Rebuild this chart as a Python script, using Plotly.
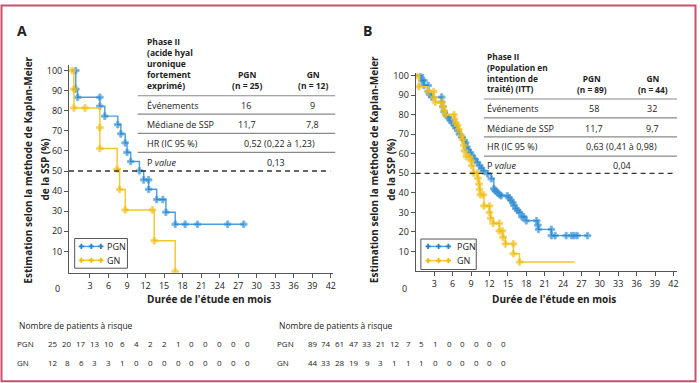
import plotly.graph_objects as go

W, H = 700, 383
FONT = "Open Sans"
TXT = "#222222"
BLUE_LINE = "#4a9ddc"
BLUE_MK = "#2483cc"
YEL_LINE = "#f3c62a"
YEL_MK = "#f0b90b"

# ---------------- Panel A data (Kaplan-Meier, PFS %) ----------------
pgn_a_t = [0.7, 0.7, 1.0, 4.6, 4.6, 5.4, 7.5, 8.0, 8.7, 9.0, 9.6, 11.0, 11.7, 12.5,
           12.5, 13.8, 14.8, 15.3, 16.8, 18.4, 20.4, 25.3, 27.9]
pgn_a_s = [100, 90.8, 86.7, 86.7, 82.3, 77.3, 73.1, 68.5, 64.0, 59.3, 54.7, 50.1, 45.6, 45.6,
           40.9, 35.8, 35.8, 29.5, 23.5, 23.5, 23.5, 23.5, 23.5]
gn_a_t = [0.1, 0.4, 0.4, 2.2, 4.6, 4.6, 7.4, 7.8, 8.7, 13.1, 13.4, 16.8]
gn_a_s = [100, 90.8, 81.4, 81.4, 71.6, 61.2, 50.9, 40.8, 30.6, 30.6, 15.3, 0]

# ---------------- Panel B data ----------------
pgn_b_t = [0.75, 1.0, 1.3, 1.3, 2.0, 2.0, 2.2, 2.6, 4.2, 4.2, 4.4, 4.6, 5.0, 5.3, 5.6, 5.9,
           6.3, 6.5, 6.9, 7.1, 7.5, 7.9, 8.1, 8.3, 8.5, 8.9, 9.1, 9.6, 10.0, 10.4, 10.7, 11.0,
           11.7, 12.3, 12.7, 12.9, 13.1, 13.4, 13.7, 13.9, 14.9, 15.2, 15.5, 15.8, 16.0, 16.3,
           16.6, 16.9, 17.3, 17.6, 18.0, 19.7, 19.9, 20.0, 22.1, 22.1, 22.7, 24.5, 25.4, 25.8,
           26.3, 28.0]
pgn_b_s = [100, 97.5, 97.5, 95.0, 95.0, 92.0, 90.5, 89.0, 89.0, 86.5, 84.0, 81.5, 79.5, 78.5,
           77.2, 75.9, 74.5, 73.2, 71.8, 70.0, 68.5, 66.9, 65.5, 63.5, 62.0, 60.6, 59.2, 57.3,
           55.6, 53.9, 52.6, 51.2, 49.7, 47.2, 42.1, 41.4, 40.7, 39.8, 39.0, 38.5, 38.5, 37.5,
           36.2, 35.0, 33.6, 32.0, 31.0, 29.9, 27.7, 27.7, 25.7, 25.7, 23.5, 21.3, 21.3, 18.1,
           18.1, 18.1, 18.1, 18.1, 18.1, 18.1]
gn_b_t = [0.1, 0.5, 2.0, 2.9, 2.9, 3.2, 4.2, 4.4, 4.6, 4.8, 6.2, 6.3, 6.5, 6.8, 7.0, 7.4,
          7.6, 7.8, 7.9, 8.2, 8.7, 9.0, 9.1, 9.4, 10.0, 10.1, 10.3, 10.4, 10.5, 11.0, 11.1,
          12.0, 12.0, 12.2, 12.6, 13.6, 13.6, 14.1, 14.2, 14.6, 15.9, 15.9, 16.9]
gn_b_s = [100, 94.3, 91.9, 91.9, 88.8, 86.4, 86.4, 84.3, 82.1, 80.0, 80.0, 77.8, 75.9, 74.5,
          72.4, 69.4, 67.3, 64.3, 61.5, 58.6, 58.6, 56.4, 53.9, 50.2, 50.2, 47.5, 44.5, 41.8,
          39.0, 39.0, 33.3, 33.3, 30.0, 27.0, 24.4, 24.4, 20.5, 20.5, 17.3, 13.9, 13.9, 8.8, 4.6]
gn_b_followup_end = 25.9

# ---------------- Tables / labels ----------------
x_ticks = list(range(3, 43, 3))
y_ticks = list(range(10, 101, 10))
median_line = 50
series_names = ["PGN", "GN"]

tab_a_header = ["Phase II", "(acide hyal", "uronique", "fortement", "exprimé)"]
tab_b_header = ["Phase II", "(Population en", "intention de", "traité) (ITT)"]
tab_a_groups = [("PGN", "(n = 25)"), ("GN", "(n = 12)")]
tab_b_groups = [("PGN", "(n = 89)"), ("GN", "(n = 44)")]
row_labels = ["Événements", "Médiane de SSP", "HR (IC 95 %)", "P <i>value</i>"]
tab_a_events = ["16", "9"]
tab_a_median = ["11,7", "7,8"]
tab_a_hr = "0,52 (0,22 à 1,23)"
tab_a_p = "0,13"
tab_b_events = ["58", "32"]
tab_b_median = ["11,7", "9,7"]
tab_b_hr = "0,63 (0,41 à 0,98)"
tab_b_p = "0,04"

risk_title = "Nombre de patients à risque"
risk_a_pgn = [25, 20, 17, 13, 10, 6, 4, 2, 2, 1, 0, 0, 0, 0, 0]
risk_a_gn = [12, 8, 6, 3, 3, 1, 0, 0, 0, 0, 0, 0, 0, 0, 0]
risk_b_pgn = [89, 74, 61, 47, 33, 21, 12, 7, 5, 1, 0, 0, 0, 0, 0]
risk_b_gn = [44, 33, 28, 19, 9, 3, 1, 1, 1, 0, 0, 0, 0, 0, 0]

xtitle = "Durée de l'étude en mois"
ytitle1 = "Estimation selon la méthode de Kaplan-Meier"
ytitle2 = "de la SSP (%)"


def px(x):
    return x / W


def py(y):
    return 1 - y / H


fig = go.Figure()


def km_trace(t, s, name, lc, mc, xa, ya, end=None):
    xs = [0] + list(t)
    ys = [100] + list(s)
    sizes = [0] + [5.5] * len(t)
    if end is not None:
        xs.append(end)
        ys.append(s[-1])
        sizes.append(0)
    fig.add_trace(go.Scatter(
        x=xs, y=ys, mode="lines+markers", name=name, showlegend=False,
        line=dict(color=lc, width=1.4, shape="hv"),
        marker=dict(symbol="cross", size=sizes, color=mc),
        xaxis=xa, yaxis=ya, hoverinfo="skip"))


km_trace(pgn_a_t, pgn_a_s, series_names[0], BLUE_LINE, BLUE_MK, "x", "y")
km_trace(gn_a_t, gn_a_s, series_names[1], YEL_LINE, YEL_MK, "x", "y")
km_trace(pgn_b_t, pgn_b_s, series_names[0], BLUE_LINE, BLUE_MK, "x2", "y2")
km_trace(gn_b_t, gn_b_s, series_names[1], YEL_LINE, YEL_MK, "x2", "y2", end=gn_b_followup_end)

axis_common = dict(showgrid=False, zeroline=False, showline=True, linecolor="#555555",
                   linewidth=1, ticks="outside", ticklen=4, tickcolor="#555555",
                   tickfont=dict(family=FONT, size=9, color=TXT))

fig.update_layout(
    width=W, height=H, margin=dict(l=0, r=0, t=0, b=0),
    paper_bgcolor="white", plot_bgcolor="white", showlegend=False,
    font=dict(family=FONT, color=TXT),
    xaxis=dict(domain=[px(69.3), px(334.7)], range=[-0.4, 42.4], tickvals=x_ticks,
               anchor="y", **axis_common),
    yaxis=dict(domain=[py(271.7), py(62)], range=[-0.7, 102.6], tickvals=y_ticks,
               anchor="x", **axis_common),
    xaxis2=dict(domain=[px(417.4), px(680)], range=[-0.05, 42.6], tickvals=x_ticks,
                anchor="y2", **axis_common),
    yaxis2=dict(domain=[py(270), py(70)], range=[-0.1, 101.2], tickvals=y_ticks,
                anchor="x2", **axis_common),
)

shapes = []
# outer border
shapes.append(dict(type="rect", xref="paper", yref="paper", x0=px(1.5), x1=px(698.5),
                   y0=py(381.3), y1=py(1.5), line=dict(color="#c8506e", width=2)))
# median dashed lines
shapes.append(dict(type="line", xref="x", yref="y", x0=-0.4, x1=41.9, y0=median_line,
                   y1=median_line, line=dict(color="#333333", width=1.3, dash="5px,4px")))
shapes.append(dict(type="line", xref="x2", yref="y2", x0=-0.05, x1=42.3, y0=median_line,
                   y1=median_line, line=dict(color="#333333", width=1.3, dash="5px,4px")))
# table rules
for yy in [92.7, 111.3, 130.7, 150]:
    shapes.append(dict(type="line", xref="paper", yref="paper", x0=px(138.3), x1=px(336.7),
                       y0=py(yy), y1=py(yy), line=dict(color="#8a8a8a", width=1.2)))
for yy in [96, 115, 134.3, 153.7]:
    shapes.append(dict(type="line", xref="paper", yref="paper", x0=px(486), x1=px(680),
                       y0=py(yy), y1=py(yy), line=dict(color="#8a8a8a", width=1.2)))

anns = []


def ann(text, x, y, size=9.5, bold=False, xanchor="center", angle=0, align="center"):
    if bold:
        text = "<b>" + text + "</b>"
    anns.append(dict(text=text, x=px(x), y=py(y), xref="paper", yref="paper",
                     xanchor=xanchor, yanchor="middle", showarrow=False, textangle=angle,
                     align=align, borderpad=0,
                     font=dict(family=FONT, size=size, color=TXT)))


def plus_path(cx, cy, a=2.6, t=0.9):
    pts = [(-t, -a), (t, -a), (t, -t), (a, -t), (a, t), (t, t), (t, a), (-t, a),
           (-t, t), (-a, t), (-a, -t), (-t, -t)]
    d = "M " + " L ".join(f"{px(cx + dx):.5f},{py(cy + dy):.5f}" for dx, dy in pts) + " Z"
    return d


# custom legends (box, line key with three symbols, label)
legend_specs = [
    dict(box=(75, 128, 237, 267), rows=[245, 259], line=(80, 103), marks=(81.7, 91.7, 101.3), tx=106.7),
    dict(box=(422.7, 478.3, 237.5, 268.3), rows=[245, 259.3], line=(428, 452), marks=(430, 440.5, 450.3), tx=458.3),
]
for spec in legend_specs:
    x0, x1, y0, y1 = spec["box"]
    shapes.append(dict(type="rect", xref="paper", yref="paper", x0=px(x0), x1=px(x1),
                       y0=py(y1), y1=py(y0), line=dict(color="#555555", width=1),
                       fillcolor="white"))
    for name, yy, lc, mc in zip(series_names, spec["rows"], [BLUE_LINE, YEL_LINE], [BLUE_MK, YEL_MK]):
        shapes.append(dict(type="line", xref="paper", yref="paper", x0=px(spec["line"][0]),
                           x1=px(spec["line"][1]), y0=py(yy), y1=py(yy),
                           line=dict(color=lc, width=1.4)))
        for mx in spec["marks"]:
            shapes.append(dict(type="path", xref="paper", yref="paper", path=plus_path(mx, yy),
                               fillcolor=mc, line=dict(width=0)))
        ann(name, spec["tx"], yy, size=9, xanchor="left")

# panel letters
ann("A", 22.5, 27, size=14, bold=True)
ann("B", 369, 27, size=14, bold=True)

# origin zero labels
ann("0", 58, 287, size=9)
ann("0", 406.7, 287, size=9)

# axis titles
ann(xtitle, 210, 298, size=10, bold=True)
ann(xtitle, 556, 298, size=10, bold=True)
for cx1, cx2 in [(28, 45), (375, 392.7)]:
    ann(ytitle1, cx1, 167.5, size=10, bold=True, angle=-90)
    ann(ytitle2, cx2, 167.5, size=10, bold=True, angle=-90)

# table A
ann("<br>".join(tab_a_header), 147, 60.5, size=8.5, bold=True, xanchor="left", align="left")
for (g, n), cx in zip(tab_a_groups, [248, 314]):
    ann(g + "<br>" + n, cx, 77.2, size=8.5, bold=True)
for lab, yy in zip(row_labels, [102.3, 121.7, 141, 160]):
    ann(lab, 147, yy, size=9, xanchor="left")
for v, cx in zip(tab_a_events, [247, 314]):
    ann(v, cx, 102.3, size=9)
for v, cx in zip(tab_a_median, [247.7, 314]):
    ann(v, cx, 121.7, size=9)
ann(tab_a_hr, 281, 141, size=9)
ann(tab_a_p, 276.7, 160, size=9)

# table B
ann("<br>".join(tab_b_header), 488.3, 69.5, size=8.3, bold=True, xanchor="left", align="left")
for (g, n), cx in zip(tab_b_groups, [595, 656]):
    ann(g + "<br>" + n, cx, 80.4, size=8.3, bold=True)
for lab, yy in zip(row_labels, [106, 125.7, 144.3, 163.3]):
    ann(lab, 488.3, yy, size=9, xanchor="left")
for v, cx in zip(tab_b_events, [596.7, 655]):
    ann(v, cx, 106, size=9)
for v, cx in zip(tab_b_median, [596.7, 655]):
    ann(v, cx, 125.7, size=9)
ann(tab_b_hr, 624.3, 144.3, size=9)
ann(tab_b_p, 625, 163.3, size=9)

# numbers at risk
for (lx, x0, step, pg, gn) in [(16, 53.7, 13.9, risk_a_pgn, risk_a_gn),
                               (277, 314, 13.7, risk_b_pgn, risk_b_gn)]:
    ann(risk_title, lx + 2, 325, size=8.5, xanchor="left")
    ann("PGN", lx, 343.3, size=8, xanchor="left")
    ann("GN", lx, 362, size=8, xanchor="left")
    for i, (a, b) in enumerate(zip(pg, gn)):
        ann(str(a), x0 + i * step, 343.3, size=8)
        ann(str(b), x0 + i * step, 362, size=8)

fig.update_layout(shapes=shapes, annotations=anns)
fig.write_html("out.html", config={"displayModeBar": False},
               post_script="document.body.style.margin='0px';document.body.style.overflow='hidden';")
